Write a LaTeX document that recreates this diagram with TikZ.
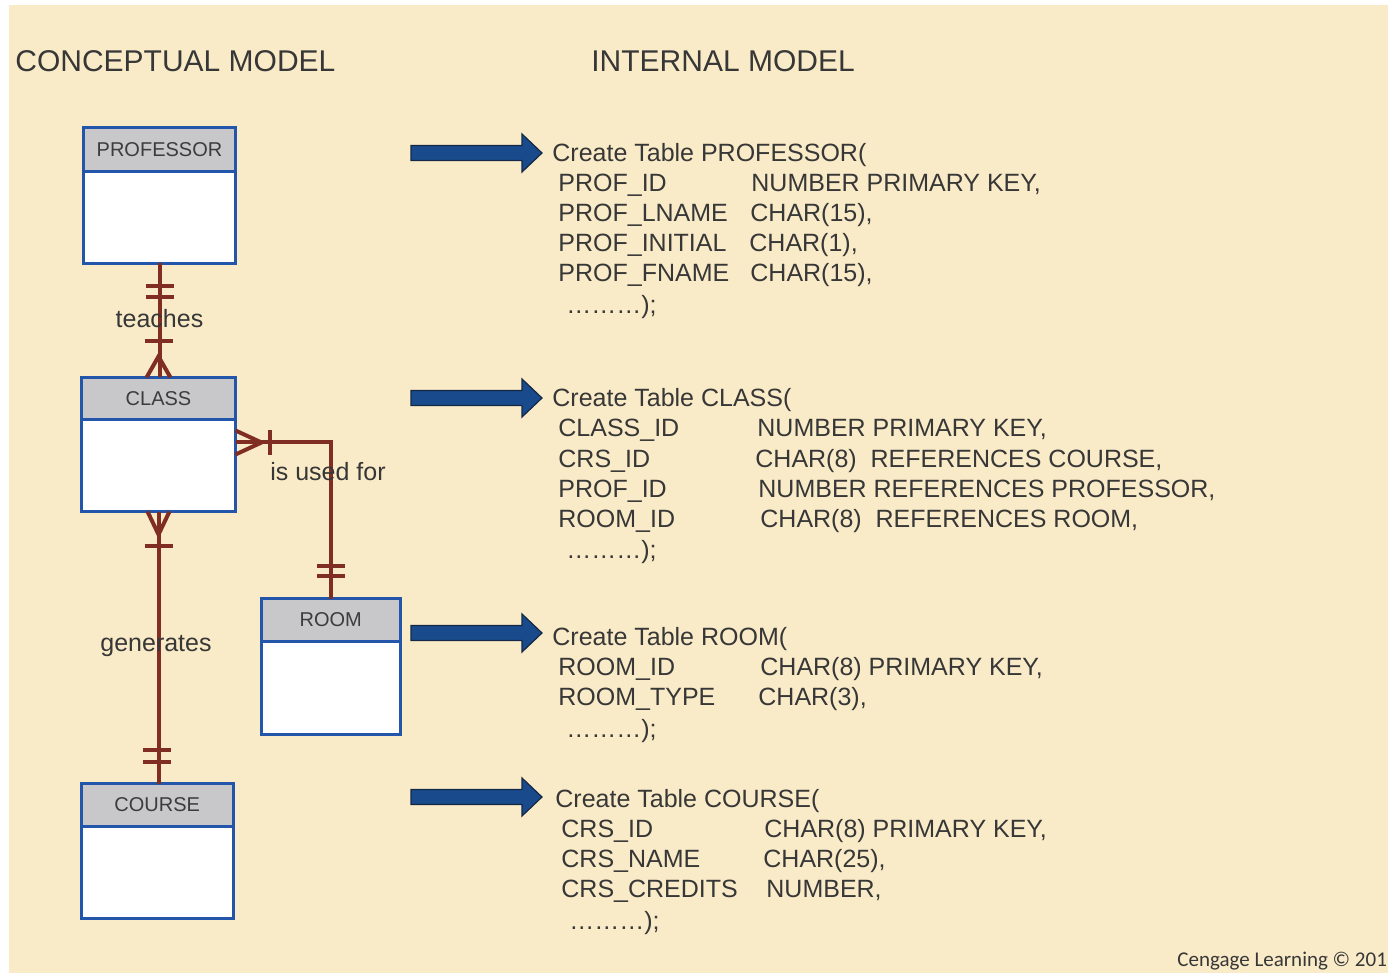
\documentclass[tikz,border=0pt]{standalone}
\usepackage{fontspec}
\setmainfont{Liberation Sans}
\newfontfamily\cengage{Carlito}
\usepackage{tikz}
\usetikzlibrary{positioning}

\definecolor{bgbeige}{RGB}{250,235,200}
\definecolor{boxblue}{RGB}{35,85,170}
\definecolor{headgray}{RGB}{200,200,203}
\definecolor{relred}{RGB}{128,45,35}
\definecolor{arrowblue}{RGB}{25,75,140}
\definecolor{arrowedge}{RGB}{20,40,70}
\definecolor{textgray}{RGB}{55,55,55}

\tikzset{
  head/.style={draw=boxblue,fill=headgray,line width=1.5pt,inner sep=0pt,outer sep=0pt,
    minimum width=76pt,minimum height=21.5pt,font=\fontsize{10}{12}\selectfont,text={rgb,255:red,60;green,60;blue,60}},
  body/.style={draw=boxblue,fill=white,line width=1.5pt,inner sep=0pt,outer sep=0pt,
    minimum width=76pt,minimum height=46pt},
  rel/.style={draw=relred,line width=2pt},
  rellabel/.style={font=\fontsize{12.5}{14}\selectfont,text=textgray,inner sep=0pt},
  sql/.style={anchor=base west,inner sep=0pt,font=\fontsize{12.5}{14}\selectfont,text=textgray},
  title/.style={anchor=base west,inner sep=0pt,font=\fontsize{15}{18}\selectfont,text=textgray}
}

\begin{document}
\begin{tikzpicture}[x=0.5pt,y=-0.5pt]
\useasboundingbox (0,0) rectangle (1388,973);
\fill[white] (0,0) rectangle (1388,973);
\fill[bgbeige] (9,5) rectangle (1388,973);

% headings
\node[title] (conc) at (15,72) {CONCEPTUAL MODEL};
\node[title] (intern) at (591,72) {INTERNAL MODEL};

% entities
\node[head,anchor=north west,minimum height=22pt] (profh) at (83.5,127.5) {PROFESSOR};
\node[body,below=0pt of profh] (profb) {};
\node[head,anchor=north west,minimum width=77pt,minimum height=21pt] (classh) at (81.5,377.5) {CLASS};
\node[body,below=0pt of classh,minimum width=77pt] (classb) {};
\node[head,anchor=north west,minimum width=69.25pt] (roomh) at (261.5,598.5) {ROOM};
\node[body,below=0pt of roomh,minimum width=69.25pt,minimum height=46.5pt] (roomb) {};
\node[head,anchor=north west,minimum width=75.75pt] (courseh) at (81.5,783.5) {COURSE};
\node[body,below=0pt of courseh] (courseb) {};

% teaches
\draw[rel] (profb.south) -- (profb.south |- classh.north) node[rellabel,pos=0.48] (teach) {teaches};
\draw[rel] (profb.south) ++(-14,23) -- ++(28,0);
\draw[rel] (profb.south) ++(-14,34) -- ++(28,0);
\draw[rel] (classh.north) ++(-14,-36) -- ++(28,0);
\draw[rel] (classh.north) ++(-12,0) -- ++(12,-21) -- ++(12,21);

% is used for
\path (classb.north east) ++(0,23) coordinate (u1);
\draw[rel] (u1) -- (u1 -| roomh.north) -- (roomh.north);
\node[rellabel] (used) at (328,472) {is used for};
\draw[rel] (u1) ++(0,-12) -- ++(26,12) -- ++(-26,12);
\draw[rel] (u1) ++(34,-12) -- ++(0,24);
\draw[rel] (roomh.north) ++(-14,-33) -- ++(28,0);
\draw[rel] (roomh.north) ++(-14,-23) -- ++(28,0);

% generates
\draw[rel] (classb.south) -- (classb.south |- courseh.north);
\node[rellabel] (gen) at (156,646) {generates};
\draw[rel] (classb.south) ++(-11,0) -- ++(11,23) -- ++(11,-23);
\draw[rel] (classb.south) ++(-14,34) -- ++(28,0);
\draw[rel] (courseh.north) ++(-14,-34) -- ++(28,0);
\draw[rel] (courseh.north) ++(-14,-22) -- ++(28,0);

% mapping arrows
\foreach \y in {153,398,633,797}
  \draw[fill=arrowblue,draw=arrowedge,line width=0.6pt]
    (411,\y-7.5) -- (522,\y-7.5) -- (522,\y-19) -- (542,\y) -- (522,\y+19)
    -- (522,\y+7.5) -- (411,\y+7.5) -- cycle;

% internal model: PROFESSOR
\node[sql] (t1) at (552,162) {Create Table PROFESSOR(};
\node[sql] at (558,192) {PROF\_ID};     \node[sql] at (751,192) {NUMBER PRIMARY KEY,};
\node[sql] at (558,222) {PROF\_LNAME};  \node[sql] at (750,222) {CHAR(15),};
\node[sql] at (558,252) {PROF\_INITIAL};\node[sql] at (749,252) {CHAR(1),};
\node[sql] at (558,282) {PROF\_FNAME};  \node[sql] at (750,282) {CHAR(15),};
\node[sql] at (566,314) {………);};

% internal model: CLASS
\node[sql] (t2) at (552,407) {Create Table CLASS(};
\node[sql] at (558,437) {CLASS\_ID}; \node[sql] at (757,437) {NUMBER PRIMARY KEY,};
\node[sql] at (558,467) {CRS\_ID};   \node[sql] at (755,467) {CHAR(8)\ \ REFERENCES COURSE,};
\node[sql] at (558,497) {PROF\_ID};  \node[sql] at (758,497) {NUMBER REFERENCES PROFESSOR,};
\node[sql] at (558,527) {ROOM\_ID};  \node[sql] at (760,527) {CHAR(8)\ \ REFERENCES ROOM,};
\node[sql] at (566,558) {………);};

% internal model: ROOM
\node[sql] (t3) at (552,645) {Create Table ROOM(};
\node[sql] at (558,675) {ROOM\_ID};   \node[sql] at (760,675) {CHAR(8) PRIMARY KEY,};
\node[sql] at (558,705) {ROOM\_TYPE}; \node[sql] at (758,705) {CHAR(3),};
\node[sql] at (566,737) {………);};

% internal model: COURSE
\node[sql] (t4) at (555,807) {Create Table COURSE(};
\node[sql] at (561,837) {CRS\_ID};      \node[sql] at (764,837) {CHAR(8) PRIMARY KEY,};
\node[sql] at (561,867) {CRS\_NAME};    \node[sql] at (763,867) {CHAR(25),};
\node[sql] at (561,897) {CRS\_CREDITS}; \node[sql] at (766,897) {NUMBER,};
\node[sql] at (569,929) {………);};

\node[anchor=base west,inner sep=0pt,font=\cengage\fontsize{10.5}{12}\selectfont,text=textgray] (credit) at (1177,966) {Cengage Learning © 201};
\end{tikzpicture}
\end{document}
